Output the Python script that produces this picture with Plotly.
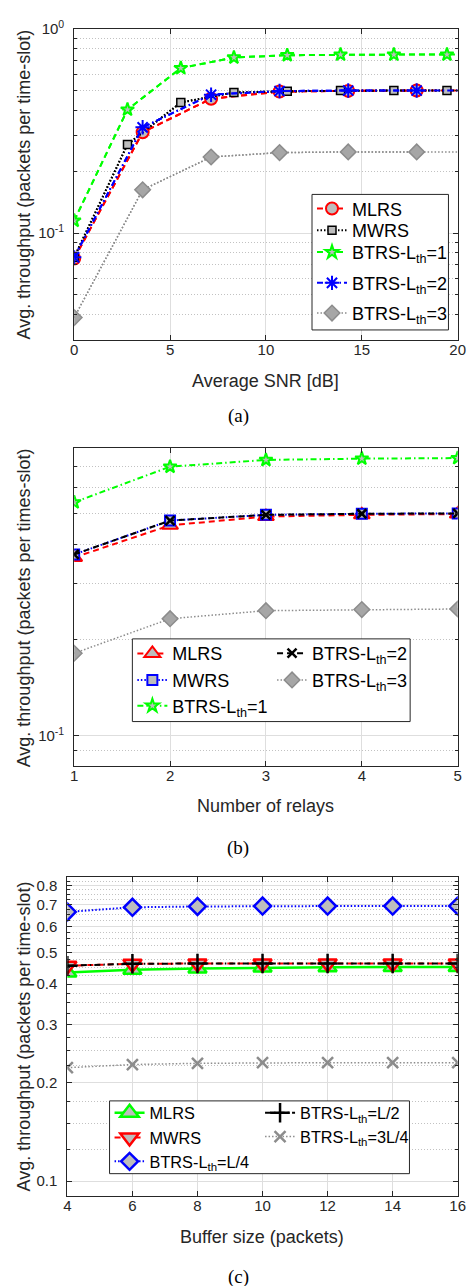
import math
import plotly.graph_objects as go

# ---------------- data ----------------
# (a) throughput vs. average SNR
snr_p = [0, 3.57, 7.14, 10.71, 14.29, 17.86, 20]          # MLRS / BTRS-2 / BTRS-3 grid
snr_q = [0, 2.78, 5.56, 8.33, 11.11, 13.89, 16.67, 19.44, 20]  # MWRS / BTRS-1 grid
mlrs_a = [0.075, 0.312, 0.456, 0.494, 0.498, 0.5, 0.5]
mwrs_a = [0.076, 0.272, 0.437, 0.489, 0.496, 0.5, 0.5, 0.5, 0.5]
btrs1_a = [0.115, 0.403, 0.644, 0.726, 0.745, 0.75, 0.75, 0.75, 0.75]
btrs2_a = [0.076, 0.33, 0.477, 0.497, 0.5, 0.5, 0.5]
btrs3_a = [0.0385, 0.163, 0.236, 0.248, 0.25, 0.25, 0.25]

# (b) throughput vs. number of relays
relays = [1, 2, 3, 4, 5]
mlrs_b = [0.363, 0.458, 0.488, 0.494, 0.497]
mwrs_b = [0.371, 0.474, 0.494, 0.498, 0.499]
btrs1_b = [0.541, 0.70, 0.735, 0.742, 0.745]
btrs2_b = [0.371, 0.474, 0.494, 0.498, 0.499]
btrs3_b = [0.1815, 0.233, 0.247, 0.249, 0.25]

# (c) throughput vs. buffer size
buf = [4, 6, 8, 10, 12, 14, 16]
mlrs_c = [0.434, 0.442, 0.446, 0.449, 0.45, 0.451, 0.451]
mwrs_c = [0.455, 0.461, 0.462, 0.462, 0.462, 0.462, 0.462]
l4_c = [0.664, 0.686, 0.69, 0.692, 0.692, 0.692, 0.692]
l2_c = [0.455, 0.461, 0.462, 0.462, 0.462, 0.462, 0.462]
l34_c = [0.222, 0.227, 0.229, 0.23, 0.23, 0.23, 0.23]

tick_a_x = [0, 5, 10, 15, 20]
tick_b_x = [1, 2, 3, 4, 5]
tick_c_x = [4, 6, 8, 10, 12, 14, 16]
tick_c_y = [0.1, 0.2, 0.3, 0.4, 0.5, 0.6, 0.7, 0.8]

# ---------------- styling ----------------
W, H = 474, 1286
def px(x): return x / W
def py(y): return 1 - y / H

AX = '#262626'
GRID = '#dedede'
MINOR = '#c2c2c2'
FILL = '#bdbdbd'
GREEN = '#00ff00'
SANS = 'Liberation Sans'
SERIF = 'Liberation Serif'
DASH = '6px,4px'
DOT = '1.5px,2px'
DASHDOT = '6px,3px,1.5px,3px'

fig = go.Figure()

def series(x, y, name, color, dash, width, symbol, size, fill, mcol, mlw,
           xa, ya, legend, nmark=None):
    n = len(x) if nmark is None else nmark
    line = dict(color=color, dash=dash, width=width)
    if n < len(x):
        fig.add_trace(go.Scatter(x=x, y=y, mode='lines', line=line, xaxis=xa, yaxis=ya,
                                 showlegend=False, hoverinfo='skip'))
    fig.add_trace(go.Scatter(x=x[:n], y=y[:n], mode='lines+markers', name=name, line=line,
                             marker=dict(symbol=symbol, size=size, color=fill,
                                         line=dict(color=mcol, width=mlw)),
                             xaxis=xa, yaxis=ya, legend=legend))

LTH = 'BTRS-L<sub>th</sub>='
# (a)
series(snr_p, mlrs_a, 'MLRS', 'red', DASH, 2, 'circle', 12, FILL, 'red', 2, 'x', 'y', 'legend', 6)
series(snr_q, mwrs_a, 'MWRS', 'black', DOT, 2, 'square', 8, FILL, 'black', 1.5, 'x', 'y', 'legend2', 8)
series(snr_q, btrs1_a, LTH + '1', GREEN, DASH, 2, 'star', 10, FILL, GREEN, 2, 'x', 'y', 'legend3', 8)
series(snr_p, btrs2_a, LTH + '2', 'blue', DASHDOT, 2, 'asterisk-open', 12, 'blue', 'blue', 2, 'x', 'y', 'legend4', 6)
series(snr_p, btrs3_a, LTH + '3', '#8c8c8c', DOT, 1.5, 'diamond', 12, '#a6a6a6', '#8c8c8c', 1.5, 'x', 'y', 'legend5', 6)
# (b)
series(relays, mlrs_b, 'MLRS', 'red', DASH, 2, 'triangle-up', 14, FILL, 'red', 2, 'x2', 'y2', 'legend6')
series(relays, mwrs_b, 'MWRS', 'blue', DOT, 2, 'square', 10, FILL, 'blue', 2, 'x2', 'y2', 'legend7')
series(relays, btrs1_b, LTH + '1', GREEN, DASHDOT, 2, 'star', 10, FILL, GREEN, 2, 'x2', 'y2', 'legend8')
series(relays, btrs2_b, LTH + '2', 'black', DASH, 2, 'x-thin-open', 9, 'black', 'black', 2.5, 'x2', 'y2', 'legend9')
series(relays, btrs3_b, LTH + '3', '#8c8c8c', DOT, 1.5, 'diamond', 12, '#a6a6a6', '#8c8c8c', 1.5, 'x2', 'y2', 'legend10')
# (c)
series(buf, mlrs_c, 'MLRS', GREEN, 'solid', 2.5, 'triangle-up', 16, FILL, GREEN, 2.5, 'x3', 'y3', 'legend11')
series(buf, mwrs_c, 'MWRS', 'red', DASH, 2, 'triangle-down', 16, FILL, 'red', 2.5, 'x3', 'y3', 'legend12')
series(buf, l4_c, LTH + 'L/4', 'blue', DOT, 2, 'diamond', 13, FILL, 'blue', 2.5, 'x3', 'y3', 'legend13')
series(buf, l2_c, LTH + 'L/2', 'black', DASHDOT, 2, 'cross-thin-open', 14, 'black', 'black', 2.5, 'x3', 'y3', 'legend14')
series(buf, l34_c, LTH + '3L/4', '#8c8c8c', DOT, 1.5, 'x-thin-open', 11, '#8c8c8c', '#8c8c8c', 2.5, 'x3', 'y3', 'legend15')

def xaxis(dom, rng, tv, anchor):
    return dict(domain=[px(dom[0]), px(dom[1])], range=rng, tickvals=tv, anchor=anchor,
                ticks='inside', ticklen=5, tickcolor=AX, mirror='allticks', showline=True,
                linecolor=AX, linewidth=1, showgrid=True, gridcolor=GRID, gridwidth=1,
                zeroline=False, tickfont=dict(family=SANS, size=15, color=AX),
                ticklabelstandoff=-4)

def yaxis(dom, lo, hi, tv, tt, minor, anchor):
    return dict(type='log', domain=[py(dom[1]), py(dom[0])],
                range=[math.log10(lo), math.log10(hi)], tickvals=tv, ticktext=tt, anchor=anchor,
                ticks='inside', ticklen=5, tickcolor=AX, mirror='allticks', showline=True,
                linecolor=AX, linewidth=1, showgrid=True, gridcolor=GRID, gridwidth=1,
                zeroline=False, tickfont=dict(family=SANS, size=15, color=AX),
                ticklabelstandoff=6,
                minor=dict(tickvals=minor, ticks='inside', ticklen=3, tickcolor=AX,
                           showgrid=True, gridcolor=MINOR, griddash='1px,2px', gridwidth=1))

minor_a = [k / 100 for k in range(3, 10)] + [k / 10 for k in range(2, 10)]
minor_b = [0.08, 0.09] + [k / 10 for k in range(2, 9)]
minor_c = [round(0.1 + 0.025 * k, 3) for k in range(0, 31) if (k % 4) != 0]

fig.update_layout(
    width=W, height=H, margin=dict(l=0, r=0, t=0, b=0),
    paper_bgcolor='white', plot_bgcolor='white',
    xaxis=xaxis((72, 465.5), [0, 20], tick_a_x, 'y'),
    yaxis=yaxis((18.3, 331.5), 0.03, 1, [0.1, 1], ['10<sup>-1</sup>', '10<sup>0</sup>'], minor_a, 'x'),
    xaxis2=xaxis((72, 465.5), [1, 5], tick_b_x, 'y2'),
    yaxis2=yaxis((441, 762), 0.08, 0.8, [0.1], ['10<sup>-1</sup>'], minor_b, 'x2'),
    xaxis3=xaxis((65, 465.5), [4, 16], tick_c_x, 'y3'),
    yaxis3=yaxis((873.3, 1195.3), 0.09, 0.85, tick_c_y, [str(v) for v in tick_c_y], minor_c, 'x3'),
    showlegend=True,
)

# legends: one entry per legend so each row sits where the reference puts it
FA, FB, FC = 18, 18, 16.3
legend_pos = {
    'legend': (316, 199.5, FA), 'legend2': (316, 221.5, FA), 'legend3': (316, 243.5, FA),
    'legend4': (316, 274.5, FA), 'legend5': (316, 305, FA),
    'legend6': (131.7, 648.3, FB), 'legend7': (131.7, 675, FB), 'legend8': (131.7, 701, FB),
    'legend9': (275, 648, FB), 'legend10': (275, 675, FB),
    'legend11': (108.3, 1111.7, FC), 'legend12': (108.3, 1136.7, FC), 'legend13': (108.3, 1160.7, FC),
    'legend14': (262.7, 1111.7, FC), 'legend15': (262.7, 1135.7, FC),
}
for k, (lx, ly, fs) in legend_pos.items():
    fig.update_layout({k: dict(x=px(lx), xanchor='left', y=py(ly), yanchor='middle',
                               bgcolor='rgba(0,0,0,0)', borderwidth=0, itemsizing='trace',
                               font=dict(family=SANS, size=fs, color='black'))})

# legend frames
for (x0, x1, y0, y1) in [(316, 456, 185, 321.7), (131.7, 416.7, 633.3, 716.7), (108.3, 416, 1099.3, 1172.7)]:
    fig.add_shape(type='rect', xref='paper', yref='paper', x0=px(x0), x1=px(x1), y0=py(y1), y1=py(y0),
                  fillcolor='white', line=dict(color=AX, width=1), layer='above')

ann = []
for txt, cy in [('Avg. throughput (packets per time-slot)', 175),
                ('Avg. throughput (packets per times-slot)', 601.5),
                ('Avg. throughput (packets per time-slot)', 1034.3)]:
    ann.append(dict(text=txt, x=px(20.5), y=py(cy), xref='paper', yref='paper', textangle=-90,
                    showarrow=False, xanchor='center', yanchor='middle',
                    font=dict(family=SANS, size=18, color=AX)))
for txt, cx, cy in [('Average SNR [dB]', 268.7, 373), ('Number of relays', 268.7, 801.7),
                    ('Buffer size (packets)', 265, 1237)]:
    ann.append(dict(text=txt, x=px(cx), y=py(cy), xref='paper', yref='paper', showarrow=False,
                    xanchor='center', yanchor='middle', font=dict(family=SANS, size=18, color=AX)))
for txt, cy in [('(a)', 408), ('(b)', 844), ('(c)', 1276.5)]:
    ann.append(dict(text=txt, x=px(240.5), y=py(cy), xref='paper', yref='paper', showarrow=False,
                    xanchor='center', yanchor='middle', font=dict(family=SERIF, size=19, color='black')))
fig.update_layout(annotations=ann)

fig.write_html('out.html')
